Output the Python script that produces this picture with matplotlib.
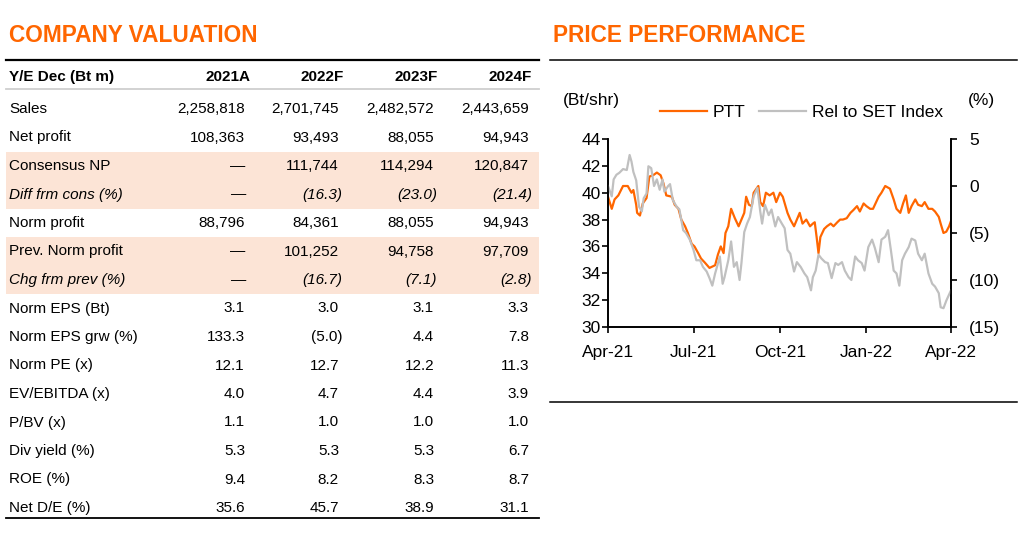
import numpy as np
import pandas as pd
import matplotlib
matplotlib.use('Agg')
import matplotlib.pyplot as plt
import matplotlib.dates as mdates
from matplotlib.patches import Rectangle
from matplotlib.ticker import FuncFormatter, MultipleLocator

plt.rcParams['font.family'] = ['Liberation Sans', 'DejaVu Sans']

# ---- table data ----
col_years = ['2021A', '2022F', '2023F', '2024F']
row_labels = ['Sales', 'Net profit', 'Consensus NP', 'Diff frm cons (%)', 'Norm profit',
              'Prev. Norm profit', 'Chg frm prev (%)', 'Norm EPS (Bt)', 'Norm EPS grw (%)',
              'Norm PE (x)', 'EV/EBITDA (x)', 'P/BV (x)', 'Div yield (%)', 'ROE (%)', 'Net D/E (%)']
sales = [2258818, 2701745, 2482572, 2443659]
net_profit = [108363, 93493, 88055, 94943]
consensus_np = [None, 111744, 114294, 120847]
diff_frm_cons = [None, -16.3, -23.0, -21.4]
norm_profit = [88796, 84361, 88055, 94943]
prev_norm_profit = [None, 101252, 94758, 97709]
chg_frm_prev = [None, -16.7, -7.1, -2.8]
norm_eps = [3.1, 3.0, 3.1, 3.3]
norm_eps_grw = [133.3, -5.0, 4.4, 7.8]
norm_pe = [12.1, 12.7, 12.2, 11.3]
ev_ebitda = [4.0, 4.7, 4.4, 3.9]
pbv = [1.1, 1.0, 1.0, 1.0]
div_yield = [5.3, 5.3, 5.3, 6.7]
roe = [9.4, 8.2, 8.3, 8.7]
net_de = [35.6, 45.7, 38.9, 31.1]
table_rows = [sales, net_profit, consensus_np, diff_frm_cons, norm_profit, prev_norm_profit,
              chg_frm_prev, norm_eps, norm_eps_grw, norm_pe, ev_ebitda, pbv, div_yield, roe, net_de]
shaded_rows = [2, 3, 5, 6]
italic_rows = [3, 6]

# ---- price data (days from 1 Apr 2021) ----
start_date = pd.Timestamp('2021-04-01')
end_date = pd.Timestamp('2022-04-01')
ptt_days = [0, 4, 7, 11, 16, 21, 25, 27, 30, 31, 34, 37, 41, 44, 48, 52, 56, 59, 62, 68,
            71, 75, 78, 82, 85, 89, 92, 96, 99, 103, 108, 114, 117, 120, 123, 125, 128, 131, 135, 139,
            142, 145, 147, 150, 153, 155, 158, 160, 162, 165, 168, 172, 176, 179, 183, 186, 191, 194, 198, 201,
            204, 207, 211, 215, 218, 220, 222, 224, 226, 230, 233, 237, 240, 244, 247, 250, 254, 258, 261, 265,
            268, 272, 275, 279, 282, 288, 291, 295, 300, 304, 307, 311, 314, 317, 320, 323, 327, 330, 334, 337,
            341, 345, 348, 352, 354, 357, 360, 363, 365]
ptt_price = [39.7, 38.8, 39.5, 39.8, 40.5, 40.5, 40.0, 40.2, 39.1, 38.5, 38.3, 39.2, 39.6, 41.2, 41.3, 41.5, 41.3, 40.7, 39.8, 39.7,
             39.1, 38.8, 38.0, 37.5, 37.0, 36.2, 36.0, 35.5, 35.1, 34.8, 34.4, 34.6, 35.4, 36.0, 35.5, 37.0, 37.5, 38.8, 38.1, 37.5,
             38.0, 38.5, 39.7, 39.1, 39.0, 40.0, 40.3, 40.5, 39.3, 39.0, 40.0, 39.8, 40.0, 39.3, 40.0, 39.7, 38.5, 38.0, 37.5, 38.0,
             38.5, 37.7, 38.0, 37.5, 37.7, 37.8, 36.7, 35.5, 36.7, 37.3, 37.5, 37.7, 37.5, 37.8, 38.0, 38.0, 38.1, 38.5, 38.7, 39.0,
             38.6, 39.2, 39.0, 38.8, 38.8, 39.7, 40.0, 40.5, 40.3, 39.5, 38.8, 38.5, 39.2, 39.8, 38.5, 39.0, 39.5, 39.1, 39.0, 39.3,
             38.8, 38.8, 38.6, 38.2, 37.7, 37.0, 37.1, 37.5, 37.9]
rel_days = [0, 4, 6, 9, 12, 16, 20, 23, 25, 27, 30, 33, 36, 38, 41, 43, 46, 49, 52, 55,
            58, 60, 64, 66, 69, 73, 76, 80, 83, 87, 91, 94, 98, 101, 105, 108, 111, 114, 116, 119,
            122, 124, 128, 131, 134, 137, 140, 142, 145, 148, 151, 155, 159, 162, 164, 167, 171, 174, 178, 181,
            185, 188, 191, 194, 198, 201, 205, 209, 212, 216, 218, 221, 224, 227, 231, 234, 238, 242, 245, 249,
            252, 256, 259, 263, 266, 270, 273, 277, 281, 284, 288, 291, 295, 298, 301, 304, 307, 310, 313, 316,
            320, 323, 327, 330, 334, 337, 341, 345, 348, 352, 354, 357, 360, 365]
rel_set = [0.0, -1.1, 0.7, 1.2, 1.4, 1.8, 1.7, 3.3, 2.6, 1.5, 0.6, -2.2, -2.7, -1.3, -0.8, 2.1, 1.9, 0.0, 0.7, -0.4,
           0.7, -0.6, 0.0, 0.2, -1.5, -2.2, -2.5, -4.7, -5.0, -5.7, -6.8, -7.9, -7.9, -8.6, -9.1, -9.8, -10.6, -9.3, -8.6, -7.5,
           -10.4, -9.7, -7.9, -5.9, -8.6, -8.1, -10.0, -8.2, -4.9, -4.0, -3.3, -1.1, -0.2, -2.7, -4.0, -2.0, -3.1, -2.5, -4.3, -3.3,
           -4.0, -4.5, -6.8, -7.2, -9.1, -8.1, -8.6, -9.3, -9.7, -11.1, -9.7, -9.0, -7.3, -7.7, -8.1, -8.2, -9.8, -8.2, -8.4, -8.1,
           -9.0, -9.7, -10.0, -7.5, -7.9, -8.2, -9.0, -6.5, -5.7, -6.6, -8.1, -5.7, -5.4, -4.7, -6.8, -9.0, -9.3, -10.6, -7.9, -7.2,
           -6.5, -5.6, -5.8, -7.2, -7.9, -7.2, -9.3, -10.4, -10.7, -11.4, -12.9, -13.0, -12.2, -11.1]
x_ticks = ['2021-04-01', '2021-07-01', '2021-10-01', '2022-01-01', '2022-04-01']

ORANGE = '#FF6600'
PEACH = '#FCE4D6'
GREY = '#C0C0C0'
W, H = 1024, 539


def fmt(v):
    if v is None:
        return '\u2014'
    if isinstance(v, int):
        return f'{v:,}'
    if v < 0:
        return f'({abs(v):.1f})'
    return f'{v:.1f}'


fig = plt.figure(figsize=(W / 100, H / 100), dpi=100)
fig.patch.set_facecolor('white')

# page layer in pixel coordinates
pg = fig.add_axes([0, 0, 1, 1])
pg.set_xlim(0, W)
pg.set_ylim(H, 0)
pg.axis('off')

pg.text(9, 35, 'COMPANY VALUATION', color=ORANGE, fontsize=16.3, fontweight='bold', va='center', ha='left')
pg.text(553, 35, 'PRICE PERFORMANCE', color=ORANGE, fontsize=16.3, fontweight='bold', va='center', ha='left')

tab_left, tab_right = 6, 539
pg.plot([tab_left, tab_right], [60, 60], color='black', lw=1.6)
pg.plot([tab_left, tab_right], [89, 89], color='#CFCFCF', lw=1.3)
pg.plot([tab_left, tab_right], [518, 518], color='black', lw=1.3)
pg.plot([550, 1017], [60, 60], color='black', lw=1.1)
pg.plot([550, 1017], [402, 402], color='black', lw=1.1)

head_x = [250, 344, 438, 532]
val_x = [245, 339, 434, 529]
pg.text(9, 77, 'Y/E Dec (Bt m)', fontsize=11, fontweight='bold', va='center', ha='left')
for x, yr in zip(head_x, col_years):
    pg.text(x, 77, yr, fontsize=11, fontweight='bold', va='center', ha='right')

row_y0, row_step = 109, 28.5
for i, (label, vals) in enumerate(zip(row_labels, table_rows)):
    y = row_y0 + i * row_step
    if i in shaded_rows:
        pg.add_patch(Rectangle((tab_left, y - row_step / 2), tab_right - tab_left, row_step,
                               facecolor=PEACH, edgecolor='none', zorder=0))
    style = 'italic' if i in italic_rows else 'normal'
    pg.text(9, y, label, fontsize=11, style=style, va='center', ha='left')
    for x, v in zip(val_x, vals):
        xr = x + 3 if (v is not None and v < 0) else x
        pg.text(xr, y, fmt(v), fontsize=11, style=style, va='center', ha='right')

# ---- price chart ----
ax = fig.add_axes([608 / W, 1 - 327 / H, 343 / W, 188 / H])
ax2 = ax.twinx()
ptt_dates = start_date + pd.to_timedelta(ptt_days, unit='D')
rel_dates = start_date + pd.to_timedelta(rel_days, unit='D')
l1, = ax.plot(ptt_dates, ptt_price, color=ORANGE, lw=1.6, label='PTT')
l2, = ax2.plot(rel_dates, rel_set, color=GREY, lw=1.6, label='Rel to SET Index')

ax.set_xlim(start_date, end_date)
ax.set_ylim(30, 44)
ax.yaxis.set_major_locator(MultipleLocator(2))
ax2.set_ylim(-15, 5)
ax2.yaxis.set_major_locator(MultipleLocator(5))
ax2.yaxis.set_major_formatter(FuncFormatter(lambda v, p: f'({abs(v):.0f})' if v < 0 else f'{v:.0f}'))
ax.set_xticks(pd.to_datetime(x_ticks))
ax.xaxis.set_major_formatter(mdates.DateFormatter('%b-%y'))

for a in (ax, ax2):
    a.spines['top'].set_visible(False)
    for s in ('left', 'right', 'bottom'):
        a.spines[s].set_linewidth(1.2)
ax.tick_params(axis='y', direction='out', length=4, width=1.2, labelsize=12.5, pad=1)
ax.tick_params(axis='x', direction='out', length=4, width=1.2, labelsize=12.5, pad=9)
ax2.tick_params(axis='y', direction='out', length=4, width=1.2, labelsize=12.5, pad=9)

pg.text(563, 100, '(Bt/shr)', fontsize=12.5, va='center', ha='left')
pg.text(968, 100, '(%)', fontsize=12.5, va='center', ha='left')

ax.legend(handles=[l1, l2], loc='center left', bbox_to_anchor=(660 / W, 1 - 112 / H),
          bbox_transform=fig.transFigure, ncol=2, frameon=False, fontsize=12.5,
          handlelength=2.7, handletextpad=0.35, columnspacing=0.75, borderpad=0, borderaxespad=0)

fig.savefig('out.png', dpi=100)
